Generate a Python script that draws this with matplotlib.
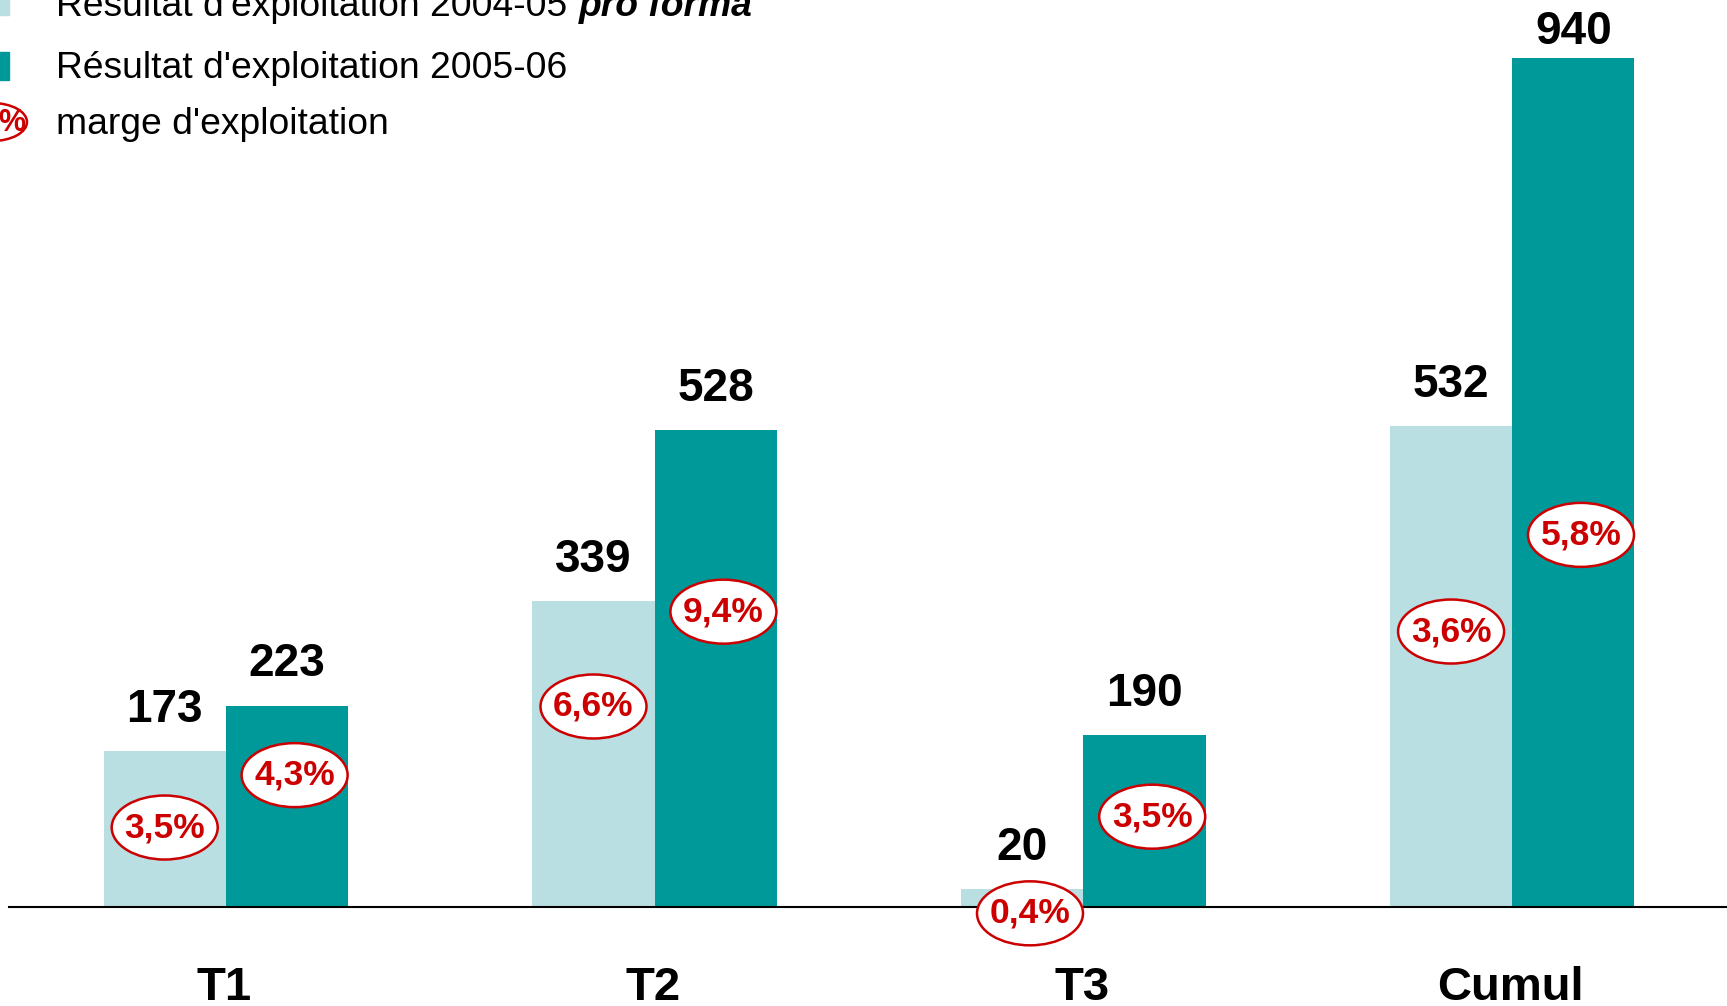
import numpy as np
import matplotlib
matplotlib.use('Agg')
import matplotlib.pyplot as plt
from matplotlib.patches import Ellipse, Rectangle

plt.rcParams['font.family'] = ['Liberation Sans', 'DejaVu Sans']

# data
categories = ['T1', 'T2', 'T3', 'Cumul']
res_2004 = [173, 339, 20, 532]
res_2005 = [223, 528, 190, 940]
marge_2004 = ['3,5%', '6,6%', '0,4%', '3,6%']
marge_2005 = ['4,3%', '9,4%', '3,5%', '5,8%']

# label placement (data units)
marge_y_2004 = [88, 222, -7, 305]
marge_y_2005 = [146, 327, 100, 412]

LIGHT = '#B9DFE2'
DARK = '#009999'
RED = '#CC0000'

W, H = 1727, 1006
fig = plt.figure(figsize=(W / 100, H / 100), dpi=100)
ax = fig.add_axes([0, 0, 1, 1])
ax.set_xlim(-0.5266, 3.501)
ax.set_ylim(-109.6, 1004.2)
ax.axis('off')

x = np.arange(len(categories))
width = 0.285

ax.bar(x - width / 2, res_2004, width, color=LIGHT, zorder=2)
ax.bar(x + width / 2, res_2005, width, color=DARK, zorder=2)
ax.axhline(0, xmin=9 / W, xmax=1, color='black', lw=1.5, zorder=3)

for i in range(len(categories)):
    for xi, v in [(x[i] - width / 2, res_2004[i]), (x[i] + width / 2, res_2005[i])]:
        off = 10 if v > 900 else 21
        ax.annotate(str(v), (xi, v), xytext=(0, off), textcoords='offset points',
                    ha='center', va='baseline', fontsize=33, fontweight='bold')

ew, eh = 106 / 428.8, 64 / 0.9032
for i in range(len(categories)):
    for xi, yi, lab in [(x[i] - width / 2, marge_y_2004[i], marge_2004[i]),
                        (x[i] + width / 2 + 0.018, marge_y_2005[i], marge_2005[i])]:
        if lab == '0,4%':
            xi += 0.018
        ax.add_patch(Ellipse((xi, yi), ew, eh, facecolor='white', edgecolor=RED,
                             lw=1.8, zorder=4))
        ax.text(xi, yi, lab, ha='center', va='center', color=RED, fontsize=25.5,
                fontweight='bold', zorder=5)

for i, c in enumerate(categories):
    ax.text(x[i] - 0.003, -103, c, ha='center', va='baseline', fontsize=34,
            fontweight='bold')

# legend, partly cut off at the top left
fx = lambda px: px / W
fy = lambda py: 1 - py / H
fig.patches.append(Rectangle((fx(-5), fy(15)), 14 / W, 28 / H, color=LIGHT,
                             transform=fig.transFigure))
fig.patches.append(Rectangle((fx(-5), fy(80)), 14 / W, 28 / H, color=DARK,
                             transform=fig.transFigure))
fig.patches.append(Ellipse((fx(-8), fy(122)), 70 / W, 38 / H, facecolor='white',
                           edgecolor=RED, lw=1.8, transform=fig.transFigure))
fig.text(fx(12), fy(123), '%', ha='center', va='center', color=RED, fontsize=22,
         fontweight='bold')

fs = 26.8
t1 = fig.text(fx(56), fy(6), "Résultat d'exploitation 2004-05", ha='left',
              va='center', fontsize=fs)
fig.canvas.draw()
bb = t1.get_window_extent()
fig.text(bb.x1 / W + 12 / W, fy(6), 'pro forma', ha='left', va='center', fontsize=fs,
         fontweight='bold', fontstyle='italic')
fig.text(fx(56), fy(69), "Résultat d'exploitation 2005-06", ha='left', va='center',
         fontsize=fs)
fig.text(fx(56), fy(124), "marge d'exploitation", ha='left', va='center', fontsize=fs)

fig.savefig('out.png', dpi=100)
